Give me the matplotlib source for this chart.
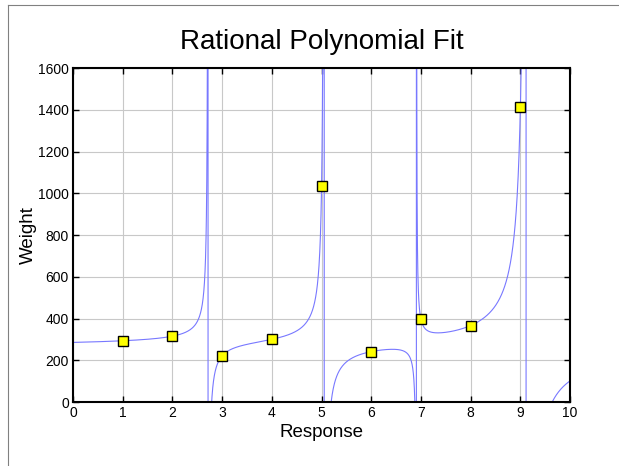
import numpy as np
import matplotlib
matplotlib.use("Agg")
import matplotlib.pyplot as plt
from matplotlib.lines import Line2D

# measured points
response = [1, 2, 3, 4, 5, 6, 7, 8, 9]
weight = [294, 316, 222, 301, 1034, 242, 397, 367, 1414]

num_deg = 4
den_deg = 4

plt.rcParams['font.family'] = ['Liberation Sans', 'DejaVu Sans']


def fit_rational(x, y, n, m):
    # p(x) - y*q(x) = 0 with q(0) = 1
    x = np.asarray(x, float)
    y = np.asarray(y, float)
    A = np.column_stack([x ** k for k in range(n + 1)] +
                        [-y * x ** k for k in range(1, m + 1)])
    coef, *_ = np.linalg.lstsq(A, y, rcond=None)
    p = coef[:n + 1]
    q = np.concatenate([[1.0], coef[n + 1:]])
    return p, q


p, q = fit_rational(response, weight, num_deg, den_deg)
xs = np.linspace(0, 10, 4000)
ys = np.polyval(p[::-1], xs) / np.polyval(q[::-1], xs)

fig = plt.figure(figsize=(6.19, 4.66), dpi=100)
ax = fig.add_axes([0.118, 0.137, 0.803, 0.717])

ax.plot(xs, ys, color='#7878ff', lw=0.8, zorder=2)
ax.plot(response, weight, ls='none', marker='s', ms=7.5,
        mfc='#ffff00', mec='black', mew=1.0, zorder=3)

ax.set_xlim(0, 10)
ax.set_ylim(0, 1600)
ax.set_xticks(range(0, 11))
ax.set_yticks(range(0, 1601, 200))
ax.grid(True, color='#c8c8c8', lw=0.8)
ax.set_axisbelow(True)
ax.tick_params(direction='in', length=4, width=1, labelsize=10,
               top=True, right=True, pad=3)
for s in ax.spines.values():
    s.set_linewidth(1.5)

ax.set_title('Rational Polynomial Fit', fontsize=20, pad=14)
ax.set_xlabel('Response', fontsize=13.5, labelpad=3)
ax.set_ylabel('Weight', fontsize=13.5, labelpad=1)

# thin frame lines along the top and left edge of the picture
fig.add_artist(Line2D([0.013, 1.0], [0.99, 0.99], transform=fig.transFigure,
                      color='#808080', lw=0.8))
fig.add_artist(Line2D([0.013, 0.013], [0.0, 0.99], transform=fig.transFigure,
                      color='#808080', lw=0.8))

fig.savefig('out.png', dpi=100)
